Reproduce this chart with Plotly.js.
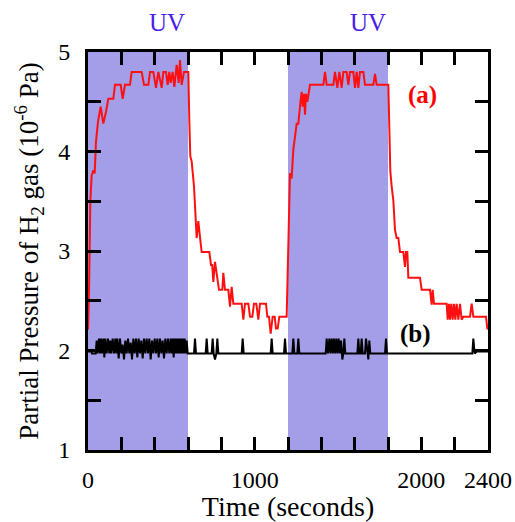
<!DOCTYPE html>
<html>
<head>
<meta charset="utf-8">
<script src="https://cdn.plot.ly/plotly-3.0.1.min.js"></script>
<style>
body{margin:0;padding:0;background:#fff}
#chart{width:515px;height:522px}
#chart svg text{font-family:"Liberation Serif","Times New Roman",serif !important;}
</style>
</head>
<body>
<div id="chart"></div>
<script>
// UV illumination intervals (seconds)
const uvStart = [0, 1200];
const uvEnd = [600, 1800];

// Curve (a): H2 partial pressure (10^-6 Pa)
const aTime = [0, 6, 14, 22, 32, 40, 48, 60, 76, 92, 108, 122, 152, 162, 196, 208, 222, 252, 262, 322, 336, 362, 372,
  392, 408, 422, 442, 452, 468, 478, 488, 496, 508, 518, 532, 544, 552, 562, 576, 602,
  608, 614, 622, 636, 652, 662, 672, 682, 728, 738, 745, 752, 762, 772, 786, 806, 812, 822, 842, 852, 862, 872,
  922, 932, 942, 962, 972, 986, 996, 1010, 1022, 1032, 1068, 1076, 1086, 1096, 1108, 1120, 1128, 1138, 1148, 1192,
  1212, 1222, 1232, 1252, 1262, 1276, 1282, 1288, 1296, 1302, 1308, 1316, 1332, 1412, 1422, 1432, 1472, 1482, 1496,
  1508, 1522, 1532, 1552, 1562, 1572, 1592, 1602, 1612, 1622, 1632, 1652, 1662, 1712, 1722, 1732, 1802,
  1808, 1814, 1822, 1832, 1842, 1852, 1862, 1872, 1892, 1902, 1908, 1916, 1922, 1992, 2002, 2052, 2062, 2068, 2076,
  2152, 2158, 2166, 2172, 2180, 2188, 2196, 2204, 2212, 2222, 2232, 2242, 2252, 2292, 2302, 2312, 2388, 2396, 2400];
const aValue = [2.21, 2.6, 3.5, 3.76, 3.81, 3.78, 4.1, 4.3, 4.45, 4.28, 4.40, 4.53, 4.53, 4.67, 4.67, 4.53, 4.67, 4.67, 4.80, 4.80, 4.67, 4.67, 4.80,
  4.80, 4.64, 4.80, 4.64, 4.80, 4.80, 4.67, 4.80, 4.69, 4.80, 4.65, 4.87, 4.69, 4.92, 4.67, 4.80, 4.80,
  4.30, 3.95, 3.90, 3.65, 3.13, 3.30, 3.14, 2.99, 2.99, 2.86, 2.86, 2.69, 2.89, 2.76, 2.61, 2.61, 2.78, 2.61, 2.61, 2.44, 2.64, 2.47,
  2.47, 2.31, 2.47, 2.47, 2.34, 2.34, 2.47, 2.47, 2.31, 2.47, 2.47, 2.34, 2.34, 2.17, 2.34, 2.34, 2.22, 2.22, 2.34, 2.34,
  3.78, 3.73, 4.02, 4.28, 4.28, 4.52, 4.60, 4.45, 4.58, 4.37, 4.58, 4.50, 4.67, 4.67, 4.80, 4.67, 4.67, 4.80, 4.64,
  4.80, 4.64, 4.80, 4.80, 4.67, 4.80, 4.80, 4.64, 4.80, 4.64, 4.80, 4.80, 4.67, 4.67, 4.78, 4.67, 4.67,
  4.12, 3.80, 3.65, 3.51, 3.21, 3.13, 3.13, 2.99, 2.99, 2.84, 2.99, 2.99, 2.73, 2.73, 2.61, 2.61, 2.46, 2.61, 2.47,
  2.47, 2.31, 2.47, 2.31, 2.47, 2.31, 2.47, 2.31, 2.47, 2.31, 2.47, 2.31, 2.34, 2.34, 2.47, 2.34, 2.34, 2.22, 2.22];

// Curve (b): baseline signal (rows of time and value match one to one)
const bTime = [
  0, 20, 24, 46, 52, 58, 66, 72, 78, 84,
  92, 98, 104, 112, 120, 128, 134, 140, 148, 156,
  164, 170, 176, 184, 192, 200, 208, 216, 224, 232,
  240, 248, 256, 264, 272, 280, 288, 296, 304, 312,
  320, 328, 336, 344, 352, 360, 368, 376, 384, 392,
  400, 408, 416, 424, 432, 440, 448, 456, 464, 472,
  480, 488, 496, 502, 508, 514, 520, 526, 532, 538,
  544, 550, 556, 562, 568, 574, 580, 586, 592, 598,
  636, 642, 648, 706, 712, 718, 742, 748, 754, 762,
  770, 776, 782, 922, 928, 934, 1096, 1102, 1108, 1176,
  1182, 1188, 1226, 1232, 1238, 1256, 1262, 1268, 1426, 1432,
  1440, 1448, 1455, 1462, 1469, 1476, 1483, 1490, 1497, 1504,
  1511, 1518, 1526, 1532, 1538, 1544, 1550, 1616, 1622, 1628,
  1636, 1642, 1648, 1662, 1668, 1676, 1682, 1688, 1694, 1700,
  1782, 1788, 1794, 2306, 2312, 2320, 2332, 2400];
const bValue = [
  1.99, 1.99, 1.97, 1.97, 2.10, 1.97, 2.12, 1.97, 2.12, 1.97,
  2.12, 1.93, 2.12, 1.97, 2.12, 1.97, 2.10, 1.97, 2.12, 1.97,
  2.12, 1.97, 2.12, 1.92, 2.12, 1.97, 2.06, 1.91, 2.10, 1.97,
  2.12, 1.97, 2.08, 1.91, 2.12, 1.97, 2.12, 1.93, 2.12, 1.97,
  2.10, 1.92, 2.12, 1.97, 2.12, 1.97, 2.12, 1.91, 2.10, 1.97,
  2.12, 1.97, 2.12, 1.93, 2.12, 1.97, 2.10, 1.92, 2.12, 1.97,
  2.12, 1.97, 2.12, 1.97, 2.12, 1.93, 2.12, 1.97, 2.12, 1.97,
  2.12, 1.97, 2.12, 1.97, 2.12, 1.97, 2.12, 1.97, 2.10, 1.97,
  1.97, 2.12, 1.97, 1.97, 2.12, 1.97, 1.97, 2.12, 1.97, 1.91,
  1.97, 2.12, 1.97, 1.97, 2.12, 1.97, 1.97, 2.12, 1.97, 1.97,
  2.12, 1.97, 1.97, 2.12, 1.97, 1.97, 2.12, 1.97, 1.97, 2.12,
  1.97, 2.12, 1.97, 2.12, 1.97, 2.12, 1.97, 2.12, 1.97, 2.12,
  1.97, 2.10, 1.91, 1.97, 2.12, 1.97, 1.97, 1.97, 2.12, 1.97,
  1.97, 2.12, 1.97, 1.97, 2.12, 1.97, 1.91, 2.10, 1.97, 1.97,
  1.97, 2.12, 1.97, 1.97, 2.12, 1.97, 1.99, 1.99];

// Axis ticks: labelled ticks plus unlabelled minor ticks
const xTickVals = [0, 1000, 2000, 2400];
const xTickText = ['0', '1000', '2000', '2400'];
const xMinorStep = 200;
const yTickVals = [1, 2, 3, 4, 5];
const yTickText = ['1', '2', '3', '4', '5'];
const yMinorStep = 0.5;

const serif = '"Liberation Serif", "Times New Roman", serif';
const uvColor = 'rgb(164,157,232)';

const shapes = uvStart.map((s, i) => ({
  type: 'rect', xref: 'x', yref: 'paper', x0: s, x1: uvEnd[i], y0: 0, y1: 1,
  fillcolor: uvColor, line: {width: 0}, layer: 'below'
}));

const annotations = [
  {x: 474, y: 1.075, xref: 'x', yref: 'paper', yanchor: 'middle', text: 'UV', showarrow: false,
   font: {family: serif, size: 25, color: '#4b1de8'}},
  {x: 1680, y: 1.075, xref: 'x', yref: 'paper', yanchor: 'middle', text: 'UV', showarrow: false,
   font: {family: serif, size: 25, color: '#4b1de8'}},
  {x: 2004, y: 4.57, xref: 'x', yref: 'y', text: '<b>(a)</b>', showarrow: false,
   font: {family: serif, size: 25, color: '#ff0000'}},
  {x: 1962, y: 2.17, xref: 'x', yref: 'y', text: '<b>(b)</b>', showarrow: false,
   font: {family: serif, size: 25, color: '#000000'}}
];

const traces = [
  {x: aTime, y: aValue, type: 'scatter', mode: 'lines', line: {color: '#ff1010', width: 2}, hoverinfo: 'none'},
  {x: bTime, y: bValue, type: 'scatter', mode: 'lines', line: {color: '#000000', width: 2}, hoverinfo: 'none'}
];

const tickStyle = {ticks: 'inside', ticklen: 13, tickwidth: 3, tickcolor: '#000'};

const layout = {
  width: 515, height: 522,
  margin: {l: 88, r: 27, t: 52, b: 72},
  paper_bgcolor: '#ffffff', plot_bgcolor: '#ffffff',
  showlegend: false,
  font: {family: serif, color: '#000'},
  xaxis: Object.assign({
    range: [0, 2400], tickmode: 'array', tickvals: xTickVals, ticktext: xTickText,
    minor: Object.assign({dtick: xMinorStep, tick0: 0, showgrid: false}, tickStyle),
    showline: true, linewidth: 3, linecolor: '#000', mirror: 'ticks',
    showgrid: false, zeroline: false, ticklabelstandoff: 6,
    tickfont: {family: serif, size: 24, color: '#000'},
    title: {text: 'Time (seconds)', font: {family: serif, size: 28, color: '#000'}, standoff: 2}
  }, tickStyle),
  yaxis: Object.assign({
    range: [1, 5], tickmode: 'array', tickvals: yTickVals, ticktext: yTickText,
    minor: Object.assign({dtick: yMinorStep, tick0: 1, showgrid: false}, tickStyle),
    showline: true, linewidth: 3, linecolor: '#000', mirror: 'ticks',
    showgrid: false, zeroline: false, ticklabelstandoff: 10,
    tickfont: {family: serif, size: 24, color: '#000'},
    title: {text: 'Partial Pressure of H<sub>2</sub> gas (10<sup>-6</sup> Pa)', font: {family: serif, size: 27, color: '#000'}, standoff: 12}
  }, tickStyle),
  shapes: shapes,
  annotations: annotations
};

Plotly.newPlot('chart', traces, layout, {displayModeBar: false, staticPlot: true});
</script>
</body>
</html>
